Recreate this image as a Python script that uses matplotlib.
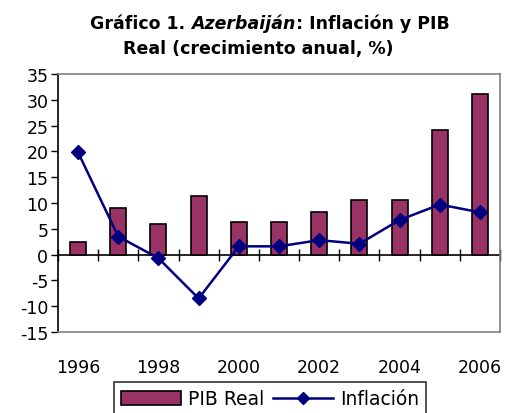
import matplotlib
matplotlib.use('Agg')
import matplotlib.pyplot as plt
import numpy as np
from matplotlib.offsetbox import TextArea, HPacker, AnchoredOffsetbox

# Datos (crecimiento anual, %)
years = [1996, 1997, 1998, 1999, 2000, 2001, 2002, 2003, 2004, 2005, 2006]
pib_real = [2.5, 9.1, 6.0, 11.4, 6.3, 6.3, 8.3, 10.5, 10.5, 24.2, 31.1]
inflacion = [19.8, 3.5, -0.7, -8.5, 1.6, 1.6, 2.8, 2.1, 6.7, 9.7, 8.2]
year_labels = ['1996', '', '1998', '', '2000', '', '2002', '', '2004', '', '2006']

BAR_COLOR = '#993366'
LINE_COLOR = '#000080'
FONT = 'DejaVu Sans'

plt.rcParams['font.family'] = FONT
plt.rcParams['axes.unicode_minus'] = False

fig = plt.figure(figsize=(5.07, 4.14), dpi=100)
ax = fig.add_axes([58 / 507, 1 - 333 / 414, 442 / 507, 258 / 414])

x = np.arange(len(years))
bars = ax.bar(x, pib_real, width=0.4, color=BAR_COLOR, edgecolor='black', linewidth=1.2,
              label='PIB Real', zorder=2)
line, = ax.plot(x, inflacion, color=LINE_COLOR, linewidth=1.8, marker='D', markersize=7.5,
                label='Inflación', zorder=3)

ymin, ymax = -15, 35
ax.set_ylim(ymin, ymax)
ax.set_xlim(-0.5, len(years) - 0.5)
ax.set_yticks(range(-15, 36, 5))
ax.tick_params(axis='y', direction='out', length=5, width=1, labelsize=12.5, pad=2)

# etiquetas de años abajo
ax.set_xticks(x)
ax.set_xticklabels(year_labels)
ax.tick_params(axis='x', length=0, labelsize=12.5, pad=19)

for s in ['top', 'right', 'bottom']:
    ax.spines[s].set_color('#808080')
    ax.spines[s].set_linewidth(1.2)
ax.spines['left'].set_color('black')
ax.spines['left'].set_linewidth(1.2)

# eje en cero con marcas entre categorías
zero_pos = (0 - ymin) / (ymax - ymin)
sec = ax.secondary_xaxis(zero_pos)
sec.set_xticks(np.arange(-0.5, len(years), 1.0))
sec.tick_params(axis='x', direction='inout', length=9, width=1, labelbottom=False)
sec.spines['bottom'].set_color('black')
sec.spines['bottom'].set_linewidth(1.2)

# título con parte en cursiva
bold = dict(fontsize=12.5, fontweight='bold', family=FONT)
boldit = dict(fontsize=12.5, fontweight='bold', fontstyle='italic', family=FONT)
line1 = HPacker(children=[TextArea('Gráfico 1. ', textprops=bold),
                          TextArea('Azerbaiján', textprops=boldit),
                          TextArea(': Inflación y PIB', textprops=bold)],
                align='baseline', pad=0, sep=0)
box1 = AnchoredOffsetbox(loc='center', child=line1, frameon=False,
                         bbox_to_anchor=(270 / 507, 1 - 24 / 414),
                         bbox_transform=fig.transFigure, pad=0, borderpad=0)
fig.add_artist(box1)
fig.text(258 / 507, 1 - 49 / 414, 'Real (crecimiento anual, %)', ha='center',
         va='center', **bold)

leg = fig.legend([bars, line], ['PIB Real', 'Inflación'],
                 loc='upper center', bbox_to_anchor=(270 / 507, 1 - 383 / 414),
                 ncol=2, fontsize=13.5, frameon=True, fancybox=False,
                 edgecolor='black', handlelength=3.2, handleheight=0.7,
                 columnspacing=0.5, handletextpad=0.35, borderpad=0.4,
                 borderaxespad=0, markerscale=0.75)
leg.get_frame().set_linewidth(1.2)

fig.savefig('out.png', dpi=100)
